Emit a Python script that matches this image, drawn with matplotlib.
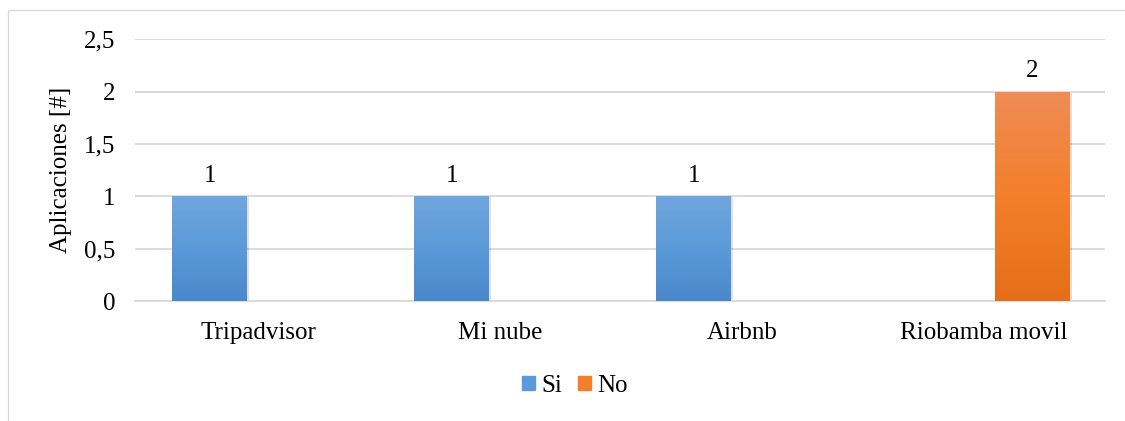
import numpy as np
import matplotlib.pyplot as plt
from matplotlib.colors import LinearSegmentedColormap
from matplotlib.patches import Rectangle

plt.rcParams['font.family'] = ['Liberation Serif', 'DejaVu Serif']

categories = ['Tripadvisor', 'Mi nube', 'Airbnb', 'Riobamba movil']
si = [1, 1, 1, 0]
no = [0, 0, 0, 2]
yticks = [0, 0.5, 1, 1.5, 2, 2.5]
ytick_labels = ['0', '0,5', '1', '1,5', '2', '2,5']

blue = ['#4a88cb', '#5b9ad8', '#70a6dd']   # bottom -> top
orange = ['#e56f18', '#f47f2a', '#ef8c57']
fs = 18

fig = plt.figure(figsize=(11.25, 4.21), dpi=100)
ax = fig.add_axes([0.12, 0.285, 0.862, 0.622])

# outer chart border
fig.patches.append(Rectangle((8 / 1125, -0.1), 1.2, 0.976 + 0.1, transform=fig.transFigure,
                             fill=False, edgecolor='#d9d9d9', linewidth=1))

x = np.arange(len(categories))
w = 0.31
off = 0.2


def grad_bars(xs, vals, cols):
    cmap = LinearSegmentedColormap.from_list('g', cols)
    grad = np.linspace(0, 1, 256).reshape(-1, 1)
    for xi, v in zip(xs, vals):
        if v == 0:
            continue
        bar = ax.bar(xi, v, w, color=cols[1], zorder=2)[0]
        # soft shadow
        ax.bar(xi + 0.008, v, w, bottom=-0.01, color='#000000', alpha=0.12, zorder=1.9)
        im = ax.imshow(grad, cmap=cmap, origin='lower', aspect='auto',
                       extent=[xi - w / 2, xi + w / 2, 0, v], zorder=3)
        im.set_clip_path(bar)
        ax.text(xi, v + 0.09, str(v), ha='center', va='bottom', fontsize=fs, zorder=4)


grad_bars(x - off, si, blue)
grad_bars(x + off, no, orange)

ax.set_xlim(-0.51, 3.5)
ax.set_ylim(0, 2.5)
ax.set_yticks(yticks)
ax.set_yticklabels(ytick_labels, fontsize=fs)
ax.set_xticks(x)
ax.set_xticklabels(categories, fontsize=fs)
ax.tick_params(axis='x', length=0, pad=15)
ax.tick_params(axis='y', length=0, pad=14)
ax.set_ylabel('Aplicaciones [#]', fontsize=fs, labelpad=9)
ax.grid(axis='y', color='#d9d9d9', linewidth=1.3, zorder=0)
ax.set_axisbelow(True)
for s in ['top', 'right', 'left']:
    ax.spines[s].set_visible(False)
ax.spines['bottom'].set_color('#d9d9d9')
ax.spines['bottom'].set_linewidth(1.3)

handles = [Rectangle((0, 0), 1, 1, color=blue[1]), Rectangle((0, 0), 1, 1, color=orange[1])]
fig.legend(handles, ['Si', 'No'], loc='center', bbox_to_anchor=(0.511, 0.083), ncol=2,
           frameon=False, fontsize=fs, handlelength=0.52, handleheight=0.52,
           handletextpad=0.25, columnspacing=0.65)

fig.savefig('out.png', dpi=100)
